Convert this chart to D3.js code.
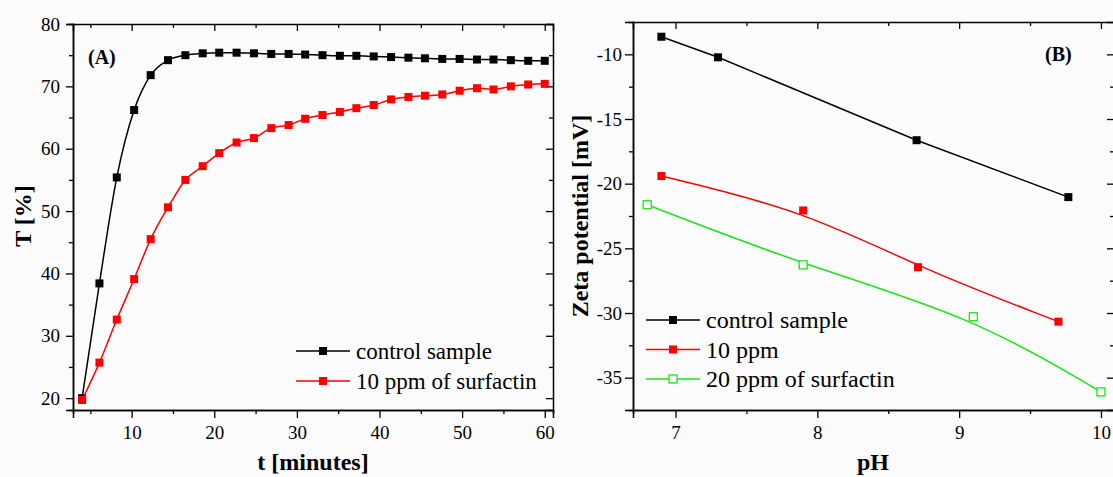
<!DOCTYPE html>
<html>
<head>
<meta charset="utf-8">
<script src="https://cdn.jsdelivr.net/npm/d3@7"></script>
<style>
  body { margin: 0; background: #fbfbfb; }
  svg { display: block; }
</style>
</head>
<body>
<svg id="chart" width="1113" height="477"></svg>
<script>
// (A) transmittance vs time
const timeMin = [4.0, 6.1, 8.2, 10.3, 12.3, 14.4, 16.5, 18.6, 20.6, 22.7, 24.8, 26.9, 29.0, 31.0,
                 33.1, 35.2, 37.2, 39.3, 41.4, 43.5, 45.5, 47.6, 49.7, 51.8, 53.8, 55.9, 58.0, 60.0];
const controlT = [20.0, 38.4, 55.4, 66.2, 71.8, 74.2, 75.0, 75.3, 75.4, 75.4, 75.3, 75.2, 75.2, 75.1,
                  75.0, 74.9, 74.9, 74.8, 74.7, 74.6, 74.5, 74.4, 74.4, 74.3, 74.3, 74.2, 74.1, 74.1];
const surfactinT = [19.7, 25.7, 32.6, 39.1, 45.5, 50.6, 55.0, 57.2, 59.3, 61.0, 61.7, 63.3, 63.8, 64.8,
                    65.4, 65.9, 66.5, 67.0, 67.9, 68.3, 68.5, 68.7, 69.3, 69.7, 69.5, 70.0, 70.3, 70.4];
const legendA = ["control sample", "10 ppm of surfactin"];

// (B) zeta potential vs pH
const controlPH = [6.9, 7.3, 8.7, 9.77];
const controlZeta = [-8.64, -10.23, -16.64, -21.04];
const ppm10PH = [6.9, 7.9, 8.71, 9.7];
const ppm10Zeta = [-19.41, -22.07, -26.46, -30.67];
const ppm20PH = [6.8, 7.9, 9.1, 10.0];
const ppm20Zeta = [-21.63, -26.28, -30.29, -36.1];
const legendB = ["control sample", "10 ppm", "20 ppm of surfactin"];

const svg = d3.select("#chart");
const SERIF = '"Liberation Serif", "Times New Roman", serif';
const GREEN = "#19e619";
const plain = d => String(d); // keeps the ascii hyphen for negatives

function frame(g, x, y, opt) {
    const [x0, x1] = x.range();
    const [y0, y1] = y.range(); // y0 bottom, y1 top
    // bottom axis
    g.append("g").attr("transform", `translate(0,${y0})`)
        .call(d3.axisBottom(x).tickValues(opt.xMinor).tickSize(4).tickFormat(""));
    g.append("g").attr("transform", `translate(0,${y0})`)
        .call(d3.axisBottom(x).tickValues(opt.xMajor).tickSize(8).tickPadding(8).tickFormat(plain));
    // left axis
    g.append("g").attr("transform", `translate(${x0},0)`)
        .call(d3.axisLeft(y).tickValues(opt.yMinor).tickSize(4).tickFormat(""));
    g.append("g").attr("transform", `translate(${x0},0)`)
        .call(d3.axisLeft(y).tickValues(opt.yMajor).tickSize(opt.ySize).tickPadding(opt.yPad).tickFormat(plain));
    // top & right, ticks inward
    g.append("g").attr("transform", `translate(0,${y1})`)
        .call(d3.axisTop(x).tickValues(opt.xMajor.concat(opt.xMinor)).tickSize(-7).tickFormat(""))
        .call(a => a.selectAll(".tick").filter(d => opt.xMinor.includes(d)).select("line").attr("y2", 4));
    g.append("g").attr("transform", `translate(${x1},0)`)
        .call(d3.axisRight(y).tickValues(opt.yMajor.concat(opt.yMinor)).tickSize(-7).tickFormat(""))
        .call(a => a.selectAll(".tick").filter(d => opt.yMinor.includes(d)).select("line").attr("x2", -4));
    g.selectAll(".domain").attr("stroke-width", 1.5);
    g.selectAll(".tick line").attr("stroke-width", 1.3);
    g.selectAll(".tick text").style("font-family", SERIF).style("font-size", "19px").attr("fill", "#000");
}

function series(g, x, y, xs, ys, color, curve, open) {
    const pts = xs.map((d, i) => [d, ys[i]]);
    g.append("path").datum(pts)
        .attr("fill", "none").attr("stroke", color).attr("stroke-width", 1.5)
        .attr("d", d3.line().x(d => x(d[0])).y(d => y(d[1])).curve(curve));
    g.selectAll(null).data(pts).enter().append("rect")
        .attr("x", d => x(d[0]) - 4).attr("y", d => y(d[1]) - 4)
        .attr("width", 8).attr("height", 8)
        .attr("fill", open ? "#fff" : color)
        .attr("stroke", color).attr("stroke-width", open ? 1.3 : 0);
}

function legend(g, items, colors, opens, lx, ly, dy, size) {
    items.forEach((label, i) => {
        const yy = ly + i * dy;
        g.append("line").attr("x1", lx).attr("x2", lx + 54).attr("y1", yy).attr("y2", yy)
            .attr("stroke", colors[i]).attr("stroke-width", 1.5);
        g.append("rect").attr("x", lx + 23).attr("y", yy - 4).attr("width", 8).attr("height", 8)
            .attr("fill", opens[i] ? "#fff" : colors[i]).attr("stroke", colors[i])
            .attr("stroke-width", opens[i] ? 1.3 : 0);
        g.append("text").attr("x", lx + 60).attr("y", yy + 8)
            .style("font-family", SERIF).style("font-size", size + "px").text(label);
    });
}

function title(g, txt, x, y, size, rotate, anchor) {
    g.append("text")
        .attr("transform", `translate(${x},${y})` + (rotate ? " rotate(-90)" : ""))
        .attr("text-anchor", anchor)
        .style("font-family", SERIF).style("font-weight", "bold").style("font-size", size + "px")
        .text(txt);
}

// ---------- panel A ----------
const xA = d3.scaleLinear().domain([2.9, 61]).range([73, 553]);
const yA = d3.scaleLinear().domain([18.1, 80]).range([410, 24]);
const gA = svg.append("g");
frame(gA, xA, yA, {
    xMajor: [10, 20, 30, 40, 50, 60], xMinor: [5, 15, 25, 35, 45, 55],
    yMajor: [20, 30, 40, 50, 60, 70, 80], yMinor: [25, 35, 45, 55, 65, 75], ySize: 7, yPad: 6
});
series(gA, xA, yA, timeMin, controlT, "#000", d3.curveMonotoneX, false);
series(gA, xA, yA, timeMin, surfactinT, "#ff0000", d3.curveMonotoneX, false);
legend(gA, legendA, ["#000", "#ff0000"], [false, false], 296, 351, 30, 23);
title(gA, "(A)", 88, 64, 20, false, "start");
title(gA, "t [minutes]", 313, 470, 24, false, "middle");
title(gA, "T [%]", 31, 216, 24, true, "middle");

// ---------- panel B ----------
const xB = d3.scaleLinear().domain([6.7, 10.092]).range([633, 1114]);
const yB = d3.scaleLinear().domain([-37.5, -7.5]).range([410, 22]);
const gB = svg.append("g");
frame(gB, xB, yB, {
    xMajor: [7, 8, 9, 10], xMinor: [7.5, 8.5, 9.5],
    yMajor: [-35, -30, -25, -20, -15, -10], yMinor: [-32.5, -27.5, -22.5, -17.5, -12.5], ySize: 8, yPad: 3
});
series(gB, xB, yB, controlPH, controlZeta, "#000", d3.curveLinear, false);
series(gB, xB, yB, ppm10PH, ppm10Zeta, "#ff0000", d3.curveBasis, false);
series(gB, xB, yB, ppm20PH, ppm20Zeta, GREEN, d3.curveBasis, true);
legend(gB, legendB, ["#000", "#ff0000", GREEN], [false, false, true], 646, 320, 29.5, 24);
title(gB, "(B)", 1045, 61, 20, false, "start");
title(gB, "pH", 873, 470, 24, false, "middle");
title(gB, "Zeta potential [mV]", 588, 216, 24, true, "middle");
</script>
</body>
</html>
